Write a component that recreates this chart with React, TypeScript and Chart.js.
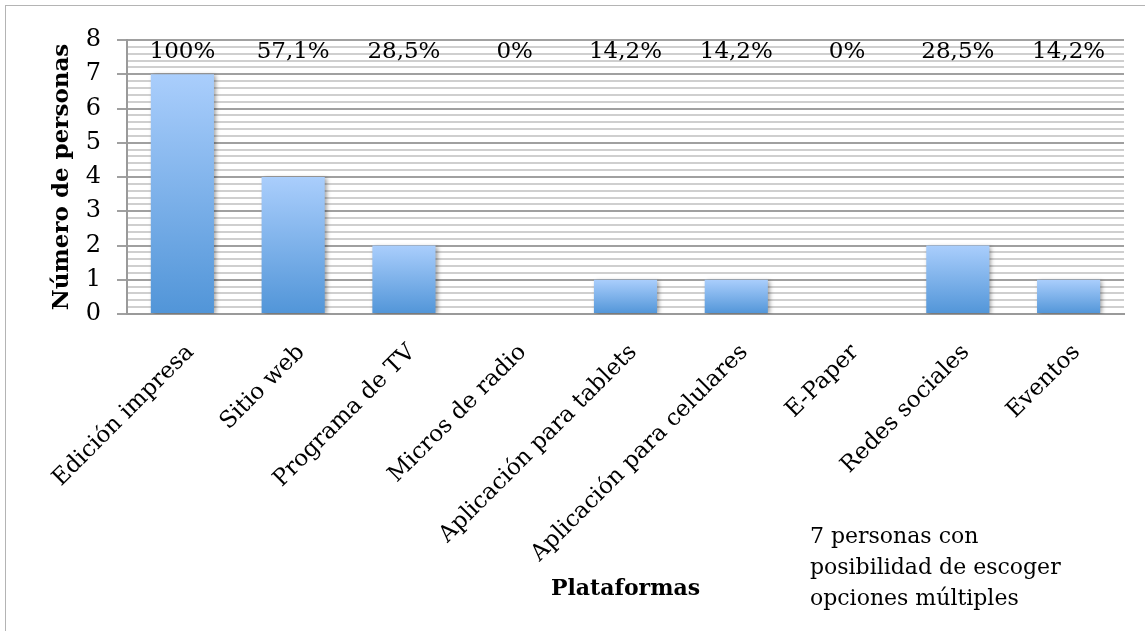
import { useEffect, useRef } from 'react';
import { Chart, registerables } from 'chart.js';

Chart.register(...registerables);

// Plataformas consultadas y número de personas que las eligieron
const plataformas = [
  'Edición impresa',
  'Sitio web',
  'Programa de TV',
  'Micros de radio',
  'Aplicación para tablets',
  'Aplicación para celulares',
  'E-Paper',
  'Redes sociales',
  'Eventos',
];
const personas = [7, 4, 2, 0, 1, 1, 0, 2, 1];
const totalPersonas = 7;

const yMin = 0;
const yMax = 8;
const yStepMenor = 0.2;

const notaLineas = ['7 personas con', 'posibilidad de escoger', 'opciones múltiples'];

const tituloY = 'Número de personas';
const tituloX = 'Plataformas';

const SERIF = '"DejaVu Serif", serif';

// Porcentaje truncado a un decimal, con coma decimal
const porcentaje = (v: number) => {
  const p = Math.floor((v / totalPersonas) * 1000 + 1e-9) / 10;
  return String(p).replace('.', ',') + '%';
};

const esEntero = (v: number) => Math.abs(v - Math.round(v)) < 1e-6;

export default function App() {
  const canvasRef = useRef<HTMLCanvasElement | null>(null);

  useEffect(() => {
    const canvas = canvasRef.current;
    if (!canvas) return;

    // Marco del gráfico (solo se ven los bordes superior e izquierdo)
    const marco = {
      id: 'marco',
      beforeDraw(chart: any) {
        const { ctx, width, height } = chart;
        ctx.save();
        ctx.fillStyle = '#ffffff';
        ctx.fillRect(0, 0, width, height);
        ctx.strokeStyle = '#b4b4b4';
        ctx.lineWidth = 1;
        ctx.strokeRect(5.5, 5.5, width + 20, height + 20);
        ctx.restore();
      },
    };

    // Sombra suave bajo las barras
    const sombra = {
      id: 'sombra',
      beforeDatasetsDraw(chart: any) {
        const { ctx } = chart;
        ctx.save();
        ctx.shadowColor = 'rgba(0,0,0,0.35)';
        ctx.shadowBlur = 4;
        ctx.shadowOffsetX = 2;
        ctx.shadowOffsetY = 1;
      },
      afterDatasetsDraw(chart: any) {
        chart.ctx.restore();
      },
    };

    // Porcentajes en la fila superior y nota explicativa
    const textos = {
      id: 'textos',
      afterDraw(chart: any) {
        const { ctx, chartArea, scales } = chart;
        const meta = chart.getDatasetMeta(0);
        const yTop = scales.y.getPixelForValue(yMax);
        ctx.save();
        ctx.fillStyle = '#000';
        ctx.font = `23px ${SERIF}`;
        ctx.textAlign = 'center';
        ctx.textBaseline = 'alphabetic';
        personas.forEach((v, i) => {
          const x = meta.data[i].x;
          ctx.fillText(porcentaje(v), x, yTop + 18);
        });

        ctx.font = `22px ${SERIF}`;
        ctx.textAlign = 'left';
        ctx.textBaseline = 'middle';
        const nx = chartArea.left + chartArea.width * 0.685;
        notaLineas.forEach((linea, i) => {
          ctx.fillText(linea, nx, chartArea.bottom + 223 + i * 31);
        });
        ctx.restore();
      },
    };

    const chart = new Chart(canvas, {
      type: 'bar',
      data: {
        labels: plataformas,
        datasets: [
          {
            data: personas,
            barPercentage: 0.57,
            categoryPercentage: 1,
            borderWidth: 0,
            backgroundColor: (c: any) => {
              const ch = c.chart;
              const { chartArea, scales } = ch;
              if (!chartArea || c.type !== 'data' || !scales.y) return '#7fb0ea';
              const v = c.parsed ? c.parsed.y : c.raw;
              const top = scales.y.getPixelForValue(v);
              const base = scales.y.getPixelForValue(0);
              if (base - top < 1) return '#5b9bd5';
              const g = ch.ctx.createLinearGradient(0, top, 0, base);
              g.addColorStop(0, '#aacefc');
              g.addColorStop(1, '#5195d8');
              return g;
            },
          },
        ],
      },
      options: {
        animation: false,
        responsive: false,
        maintainAspectRatio: false,
        layout: { padding: { top: 40, right: 21, left: 0, bottom: 0 } },
        plugins: {
          legend: { display: false },
          tooltip: { enabled: false },
        },
        scales: {
          x: {
            offset: true,
            grid: { display: false, drawTicks: false },
            border: { display: true, color: '#9a9a9a', width: 2 },
            ticks: {
              autoSkip: false,
              maxRotation: 45,
              minRotation: 45,
              padding: 25,
              labelOffset: 8,
              color: '#000',
              font: { family: SERIF, size: 23 },
            },
            title: {
              display: true,
              text: tituloX,
              color: '#000',
              font: { family: SERIF, size: 22, weight: 'bold' },
              padding: { top: 0, bottom: 29 },
            },
            afterFit: (s: any) => {
              s.height = 317;
            },
          },
          y: {
            min: yMin,
            max: yMax,
            grid: {
              color: (c: any) =>
                c.tick && esEntero(c.tick.value) ? '#a0a0a0' : '#cfcfcf',
              lineWidth: 2,
              drawTicks: true,
              tickLength: 10,
              tickColor: (c: any) =>
                c.tick && esEntero(c.tick.value) ? '#a0a0a0' : 'rgba(0,0,0,0)',
              tickWidth: 2,
            },
            border: { display: true, color: '#9a9a9a', width: 2 },
            ticks: {
              stepSize: yStepMenor,
              autoSkip: false,
              padding: 16,
              color: '#000',
              font: { family: SERIF, size: 24 },
              callback: (v: any) => (esEntero(Number(v)) ? String(Math.round(Number(v))) : ''),
            },
            title: {
              display: true,
              text: tituloY,
              color: '#000',
              font: { family: SERIF, size: 23, weight: 'bold' },
              padding: { top: 48, bottom: 0 },
            },
            afterFit: (s: any) => {
              s.width = 127;
            },
          },
        },
      },
      plugins: [marco, sombra, textos],
    } as any);

    return () => chart.destroy();
  }, []);

  return (
    <div style={{ position: 'absolute', left: 0, top: 0, width: 1145, height: 631, background: '#fff' }}>
      <canvas ref={canvasRef} width={1145} height={631} style={{ width: 1145, height: 631, display: 'block' }} />
    </div>
  );
}
